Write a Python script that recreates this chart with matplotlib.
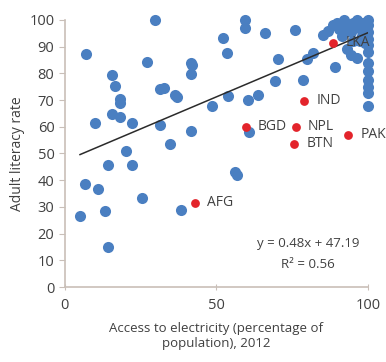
import matplotlib
matplotlib.use('Agg')
import matplotlib.pyplot as plt

plt.rcParams['font.family'] = ['Open Sans', 'DejaVu Sans']

# other countries (blue)
blue_x = [5, 6.6, 7, 9.9, 11, 13.2, 14.3, 14.3, 15.4, 15.4, 16.5, 18.2, 18.2, 18.2,
          20.1, 22, 22.2, 25.6, 27, 29.7, 31.4, 32.7, 31.4, 34.7, 36.3, 37, 38.4,
          41.5, 42.1, 41.6, 41.5, 48.4, 52.2, 53.4, 53.7, 56.1, 56.7, 59.4, 59.4,
          60.5, 60.8, 63.8, 66, 69.3, 70.4, 75.9, 78.6, 79.8, 82, 85.3, 89.1,
          93, 94.6, 96.3,
          87, 88.5, 89.7, 90.5, 91.5, 92, 93, 94.5, 95, 96.3, 97, 98, 98.5, 99.5,
          100, 100, 100, 100, 100, 99, 100, 100, 100, 100, 100, 100, 100, 97.5, 95]
blue_y = [26.6, 38.5, 87.3, 61.5, 36.7, 28.6, 15.1, 45.7, 79.4, 64.8, 75.3, 63.6, 70.3, 68.8,
          50.8, 45.7, 61.5, 33.5, 84.4, 100, 74, 74.4, 60.6, 53.4, 71.9, 71, 28.7,
          83.8, 83.1, 79.8, 58.4, 67.8, 93.1, 87.8, 71.5, 43.2, 42, 100, 96.9,
          70, 58.2, 71.9, 95, 77.3, 85.5, 96.4, 77.5, 85.4, 87.5, 94.2, 82.5,
          89, 87, 85.6,
          96, 98, 99, 96.5, 94, 100, 97.5, 95.5, 99, 100, 97, 94, 99, 96,
          100, 98, 95.5, 93, 90.5, 91.5, 88, 84, 80.7, 77.5, 75, 72.7, 67.6, 92, 92]

# South Asian countries (red)
red_names = ['AFG', 'BGD', 'NPL', 'BTN', 'PAK', 'IND', 'LKA']
red_x = [42.9, 59.7, 76.2, 75.7, 93.5, 79, 88.6]
red_y = [31.6, 60, 60, 53.6, 57, 69.8, 91.5]

slope = 0.48
intercept = 47.19
line_x = [5, 100]

fig = plt.figure(figsize=(3.86, 3.62), dpi=100)
ax = fig.add_axes([0.168, 0.207, 0.785, 0.738])

ax.scatter(blue_x, blue_y, s=64, color='#4a7fc1', linewidths=0, clip_on=False, zorder=2)
ax.plot(line_x, [slope * v + intercept for v in line_x], color='#2b2b2b', lw=1.1, zorder=3)
ax.scatter(red_x, red_y, s=40, color='#e3242b', linewidths=0, clip_on=False, zorder=4)
for n, x, y in zip(red_names, red_x, red_y):
    ax.annotate(n, (x, y), xytext=(12, 0), textcoords='offset pixels',
                va='center', ha='left', fontsize=10, color='#404040', zorder=5)

ax.text(80.3, 16.4, 'y = 0.48x + 47.19', ha='center', va='center', fontsize=9.5, color='#404040')
ax.text(80.3, 8.6, 'R² = 0.56', ha='center', va='center', fontsize=9.5, color='#404040')

ax.set_xlim(0, 100)
ax.set_ylim(0, 100)
ax.set_xticks([0, 50, 100])
ax.set_yticks(range(0, 101, 10))
for s in ['top', 'right']:
    ax.spines[s].set_visible(False)
for s in ['left', 'bottom']:
    ax.spines[s].set_color('#c9bfb8')
    ax.spines[s].set_linewidth(1.2)
ax.tick_params(axis='both', colors='#c9bfb8', labelcolor='#404040', labelsize=10.5, length=4)
ax.tick_params(axis='x', direction='inout', pad=6)
ax.set_xlabel('Access to electricity (percentage of\npopulation), 2012', fontsize=9.5,
              color='#404040', labelpad=6)
ax.set_ylabel('Adult literacy rate', fontsize=10, color='#404040', labelpad=3)

fig.savefig('out.png', dpi=100)
